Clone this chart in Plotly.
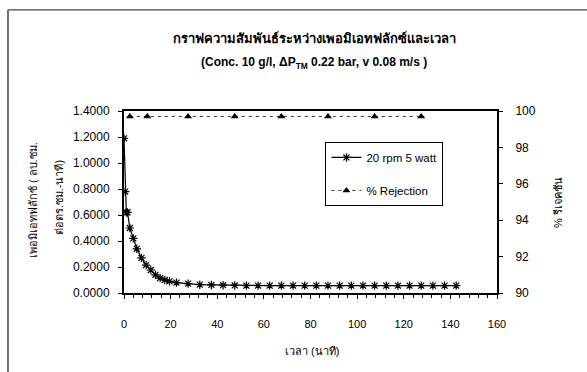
import plotly.graph_objects as go

# Permeate flux over time (20 rpm, 5 watt)
time_flux = [0, 0.5, 1, 1.5, 2.5, 4, 5.5, 7.5, 9.5, 11.5, 13.5, 15.5, 17.5, 19.5, 22.5,
             27.5, 32.5, 37.5, 42.5, 47.5, 52.5, 57.5, 62.5, 67.5, 72.5, 77.5, 82.5,
             87.5, 92.5, 97.5, 102.5, 107.5, 112.5, 117.5, 122.5, 127.5, 132.5, 137.5, 142.5]
flux = [1.19, 0.78, 0.62, 0.62, 0.50, 0.42, 0.34, 0.27, 0.215, 0.177, 0.14, 0.115, 0.10, 0.09, 0.08,
        0.072, 0.064, 0.062, 0.060, 0.058, 0.057, 0.057, 0.057, 0.057, 0.057, 0.057, 0.057,
        0.057, 0.057, 0.057, 0.057, 0.057, 0.057, 0.057, 0.057, 0.057, 0.057, 0.057, 0.057]

# % rejection over time
time_rej = [2.5, 10, 27.5, 47.5, 67.5, 87.5, 107.5, 127.5]
rejection = [99.7, 99.7, 99.7, 99.7, 99.7, 99.7, 99.7, 99.7]

x_ticks = [0, 20, 40, 60, 80, 100, 120, 140, 160]
y_ticks = [0, 0.2, 0.4, 0.6, 0.8, 1.0, 1.2, 1.4]
y2_ticks = [90, 92, 94, 96, 98, 100]

FONT = "Arial, Liberation Sans, Noto Sans, sans-serif"


def note(text, x, y, size, angle=0, bold=False):
    return dict(text=f"<b>{text}</b>" if bold else text,
                xref="paper", yref="paper", x=x, y=y,
                xanchor="center", yanchor="middle", textangle=angle,
                showarrow=False, font=dict(family=FONT, size=size, color="black"))


fig = go.Figure()
fig.add_trace(go.Scatter(
    x=time_flux, y=flux, name="20 rpm 5 watt", mode="lines+markers", legendgroup="flux",
    line=dict(color="black", width=1.2),
    marker=dict(symbol="asterisk-open", size=7, color="black", line=dict(color="black", width=1.2)),
))
fig.add_trace(go.Scatter(
    x=time_rej, y=rejection, name="% Rejection", mode="lines+markers", yaxis="y2",
    legendgroup="rej",
    line=dict(color="black", width=0.8, dash="3px,4px"),
    marker=dict(symbol="triangle-up", size=7, color="black"),
))

fig.update_layout(
    width=587, height=372,
    margin=dict(l=124, r=90, t=111, b=79),
    paper_bgcolor="white", plot_bgcolor="white",
    font=dict(family=FONT, size=11, color="black"),
    showlegend=True,
    legend=dict(
        x=0.54, y=0.83, xanchor="left", yanchor="top",
        bgcolor="white", bordercolor="black", borderwidth=1,
        font=dict(family=FONT, size=11.5, color="black"),
        tracegroupgap=14, itemwidth=30, entrywidth=95, entrywidthmode="pixels",
    ),
    xaxis=dict(
        range=[0, 160], tickvals=x_ticks, ticktext=[str(v) for v in x_ticks],
        showline=True, linecolor="black", linewidth=2, mirror=True,
        ticks="outside", ticklen=4, tickcolor="black", tickwidth=1,
        minor=dict(ticks="outside", dtick=4, ticklen=3, tickcolor="black", tickwidth=1),
        showgrid=False, zeroline=False, ticklabelstandoff=16,
        tickfont=dict(family=FONT, size=11),
    ),
    yaxis=dict(
        range=[0, 1.4], tickvals=y_ticks, ticktext=[f"{v:.4f}" for v in y_ticks],
        showline=True, linecolor="black", linewidth=2, mirror=True,
        ticks="outside", ticklen=4, tickcolor="black", tickwidth=1,
        showgrid=False, zeroline=False, ticklabelstandoff=6,
        tickfont=dict(family=FONT, size=12),
    ),
    yaxis2=dict(
        range=[90, 100], tickvals=y2_ticks, overlaying="y", side="right",
        showline=True, linecolor="black", linewidth=2,
        ticks="outside", ticklen=4, tickcolor="black", tickwidth=1,
        showgrid=False, zeroline=False, ticklabelstandoff=10,
        tickfont=dict(family=FONT, size=12),
    ),
    annotations=[
        note("กราฟความสัมพันธ์ระหว่างเพอมิเอทฟลักซ์และเวลา", 0.51, 1.4, 13, bold=True),
        note("(Conc. 10 g/l, ΔP<sub>TM</sub> 0.22 bar, v 0.08 m/s )", 0.51, 1.265, 12, bold=True),
        note("เวลา (นาที)", 0.504, -0.319, 11),
        note("เพอมิเอทฟลักซ์ ( ลบ.ซม.", -0.244, 0.51, 11, angle=-90),
        note("ต่อตร.ซม.-นาที)", -0.172, 0.525, 11, angle=-90),
        note("% รีเจคชัน", 1.164, 0.495, 11, angle=-90),
    ],
    shapes=[
        # outer frame lines
        dict(type="line", xref="paper", yref="paper", x0=-0.31, x1=1.25, y0=1.556, y1=1.556,
             line=dict(color="#444", width=1.2)),
        dict(type="line", xref="paper", yref="paper", x0=-0.311, x1=-0.311, y0=-0.45, y1=1.556,
             line=dict(color="#444", width=1.5)),
    ],
)

fig.write_html("out.html")
